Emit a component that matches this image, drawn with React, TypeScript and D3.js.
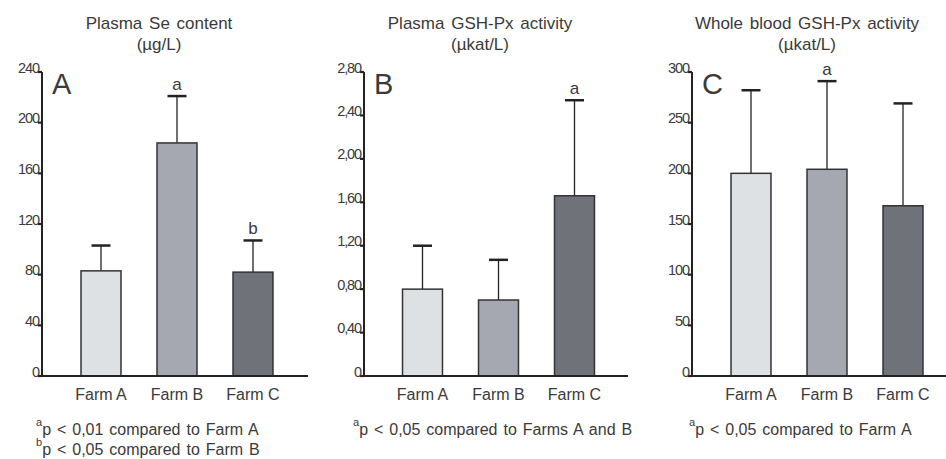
import React from "react";
import * as d3 from "d3";

const farms = ["Farm A", "Farm B", "Farm C"];
const farmColors = ["#dee1e4", "#a5a8b0", "#6f7279"];

// Panel A: plasma Se (µg/L)
const seMeans = [83, 184, 82];
const seSd = [20, 37, 25];
const seSig = ["", "a", "b"];
const seTicks = [0, 40, 80, 120, 160, 200, 240];
const seTickLabels = ["0", "40", "80", "120", "160", "200", "240"];

// Panel B: plasma GSH-Px (µkat/L)
const plasmaMeans = [0.8, 0.7, 1.66];
const plasmaSd = [0.4, 0.37, 0.88];
const plasmaSig = ["", "", "a"];
const plasmaTicks = [0, 0.4, 0.8, 1.2, 1.6, 2.0, 2.4, 2.8];
const plasmaTickLabels = ["0", "0,40", "0,80", "1,20", "1,60", "2,00", "2,40", "2,80"];

// Panel C: whole blood GSH-Px (µkat/L)
const bloodMeans = [200, 204, 168];
const bloodSd = [82, 87, 101];
const bloodSig = ["", "a", ""];
const bloodTicks = [0, 50, 100, 150, 200, 250, 300];
const bloodTickLabels = ["0", "50", "100", "150", "200", "250", "300"];

const FONT = "'Liberation Sans', Arial, sans-serif";
const INK = "#3a3a3a";

type PanelProps = {
  letter: string;
  title: string[];
  means: number[];
  sd: number[];
  sig: string[];
  ticks: number[];
  tickLabels: string[];
  axisX: number;
  bandLeft: number;
  baseEnd: number;
  titleX: number;
  footX: number;
  footnotes: { sup: string; text: string }[];
};

const Panel: React.FC<PanelProps> = (p) => {
  const top = 72;
  const bottom = 376;
  const y = d3
    .scaleLinear()
    .domain([0, p.ticks[p.ticks.length - 1]])
    .range([bottom, top]);
  const x = d3
    .scaleBand()
    .domain(farms)
    .range([p.bandLeft, p.bandLeft + 228])
    .paddingInner(0.474)
    .paddingOuter(0.237);
  const bw = x.bandwidth();

  return (
    <g fontFamily={FONT} fill={INK}>
      {p.title.map((t, i) => (
        <text key={i} x={p.titleX} y={29 + i * 21} fontSize={17} textAnchor="middle" wordSpacing={2}>
          {t}
        </text>
      ))}
      <text x={p.axisX + 10} y={94} fontSize={29}>
        {p.letter}
      </text>

      {farms.map((f, i) => {
        const x0 = x(f)!;
        const cx = x0 + bw / 2;
        const yTop = y(p.means[i]);
        const yCap = y(p.means[i] + p.sd[i]);
        return (
          <g key={f}>
            <line x1={cx} x2={cx} y1={yTop} y2={yCap} stroke="#222" strokeWidth={1.3} />
            <line x1={cx - 9.5} x2={cx + 9.5} y1={yCap} y2={yCap} stroke="#222" strokeWidth={2.5} />
            <rect
              x={x0}
              y={yTop}
              width={bw}
              height={bottom - yTop}
              fill={farmColors[i]}
              stroke="#333"
              strokeWidth={1.5}
            />
            {p.sig[i] && (
              <text x={cx} y={yCap - 6} fontSize={17} textAnchor="middle">
                {p.sig[i]}
              </text>
            )}
            <text x={cx} y={400} fontSize={16} textAnchor="middle">
              {f}
            </text>
          </g>
        );
      })}

      <line x1={p.axisX} x2={p.axisX} y1={top} y2={bottom + 1} stroke="#222" strokeWidth={2} />
      <line x1={p.axisX - 4} x2={p.baseEnd} y1={bottom} y2={bottom} stroke="#222" strokeWidth={2.2} />
      {p.ticks.map((t, i) => (
        <g key={t}>
          <line x1={p.axisX - 4} x2={p.axisX} y1={y(t)} y2={y(t)} stroke="#222" strokeWidth={2.2} />
          <text
            x={p.axisX - 3}
            y={y(t) + 0.5}
            fontSize={14.5}
            textAnchor="end"
            letterSpacing={-1.1}
          >
            {p.tickLabels[i]}
          </text>
        </g>
      ))}

      {p.footnotes.map((fn, i) => (
        <text key={i} x={p.footX} y={435 + i * 20} fontSize={16} wordSpacing={1.5}>
          <tspan fontSize={11} dy={-9}>
            {fn.sup}
          </tspan>
          <tspan dy={9}>{fn.text}</tspan>
        </text>
      ))}
    </g>
  );
};

export default function App() {
  return (
    <svg
      width={946}
      height={459}
      style={{ position: "absolute", left: 0, top: 0, background: "#fff" }}
    >
      <Panel
        letter="A"
        title={["Plasma Se content", "(µg/L)"]}
        means={seMeans}
        sd={seSd}
        sig={seSig}
        ticks={seTicks}
        tickLabels={seTickLabels}
        axisX={42}
        bandLeft={63}
        baseEnd={308}
        titleX={159}
        footX={36}
        footnotes={[
          { sup: "a", text: "p < 0,01 compared to Farm A" },
          { sup: "b", text: "p < 0,05 compared to Farm B" },
        ]}
      />
      <Panel
        letter="B"
        title={["Plasma GSH-Px activity", "(µkat/L)"]}
        means={plasmaMeans}
        sd={plasmaSd}
        sig={plasmaSig}
        ticks={plasmaTicks}
        tickLabels={plasmaTickLabels}
        axisX={364}
        bandLeft={384.5}
        baseEnd={628}
        titleX={480}
        footX={353}
        footnotes={[{ sup: "a", text: "p < 0,05 compared to Farms A and B" }]}
      />
      <Panel
        letter="C"
        title={["Whole blood GSH-Px activity", "(µkat/L)"]}
        means={bloodMeans}
        sd={bloodSd}
        sig={bloodSig}
        ticks={bloodTicks}
        tickLabels={bloodTickLabels}
        axisX={692}
        bandLeft={713}
        baseEnd={946}
        titleX={807}
        footX={689}
        footnotes={[{ sup: "a", text: "p < 0,05 compared to Farm A" }]}
      />
    </svg>
  );
}
